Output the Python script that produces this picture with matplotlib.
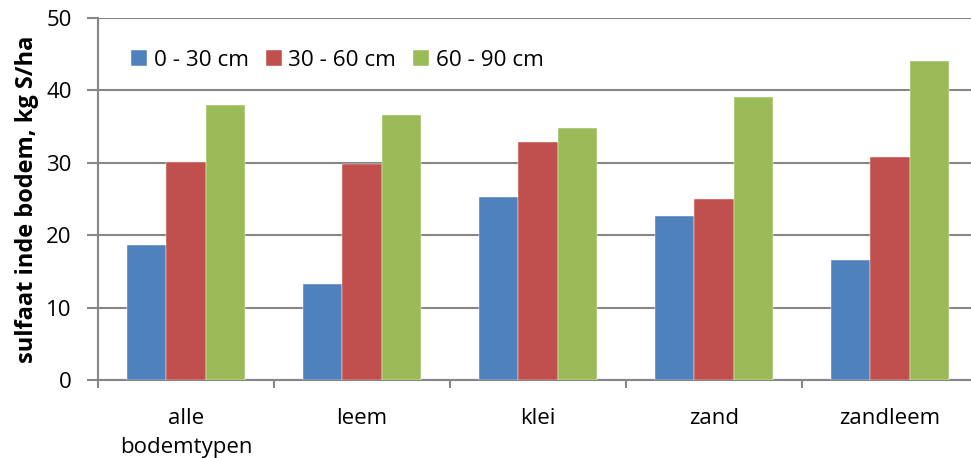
"""sulfaat in de bodem per bodemtype en diepte"""
import numpy as np
import matplotlib
matplotlib.use("Agg")
import matplotlib.pyplot as plt

# gegevens
categories = ["alle\nbodemtypen", "leem", "klei", "zand", "zandleem"]
depths = ["0 - 30 cm", "30 - 60 cm", "60 - 90 cm"]
s_0_30 = [18.6, 13.3, 25.3, 22.6, 16.6]
s_30_60 = [30.1, 29.8, 32.9, 25.0, 30.8]
s_60_90 = [38.0, 36.6, 34.8, 39.1, 44.1]

colors = ["#4F81BD", "#C0504D", "#9BBB59"]
grid_color = "#868686"

plt.rcParams['font.family'] = ['Open Sans', 'DejaVu Sans']

fig = plt.figure(figsize=(9.71, 4.58), dpi=100)
W, H = 971, 458
# assen in pixels: links 98, boven 18, onder 380, rechts 978
ax = fig.add_axes([98 / W, 1 - 380 / H, (978 - 98) / W, (380 - 18) / H])

x = np.arange(len(categories))
bw = 0.225
for i, (vals, lab) in enumerate(zip([s_0_30, s_30_60, s_60_90], depths)):
    ax.bar(x + (i - 1) * bw, vals, bw, color=colors[i], label=lab,
           edgecolor="white", linewidth=0.3, zorder=3)

ax.set_xlim(-0.5, len(categories) - 0.5)
ax.set_ylim(0, 50)
ax.set_yticks(range(0, 51, 10))
ax.yaxis.grid(True, color=grid_color, linewidth=1.5, zorder=0)
ax.set_axisbelow(True)

# categorie-labels midden, tickstreepjes tussen de groepen
ax.set_xticks(x)
ax.set_xticklabels(categories, fontsize=16, linespacing=1.5)
ax.set_xticks(np.arange(len(categories) + 1) - 0.5, minor=True)
ax.tick_params(axis="x", which="major", length=0, pad=20)
ax.tick_params(axis="x", which="minor", length=6, width=1.5, color=grid_color)
ax.tick_params(axis="y", length=8, width=1.5, color=grid_color,
               labelsize=16, pad=11)

for s in ["top", "right"]:
    ax.spines[s].set_visible(False)
for s in ["left", "bottom"]:
    ax.spines[s].set_color(grid_color)
    ax.spines[s].set_linewidth(1.5)

ax.set_ylabel("sulfaat inde bodem, kg S/ha", fontsize=17, fontweight="bold",
              labelpad=5)

ax.legend(loc="upper left", bbox_to_anchor=(0.015, 0.968), ncol=3,
          frameon=False, fontsize=16.2, handlelength=0.7, handleheight=0.7,
          handletextpad=0.3, columnspacing=0.75)

fig.savefig("out.png", dpi=100)
